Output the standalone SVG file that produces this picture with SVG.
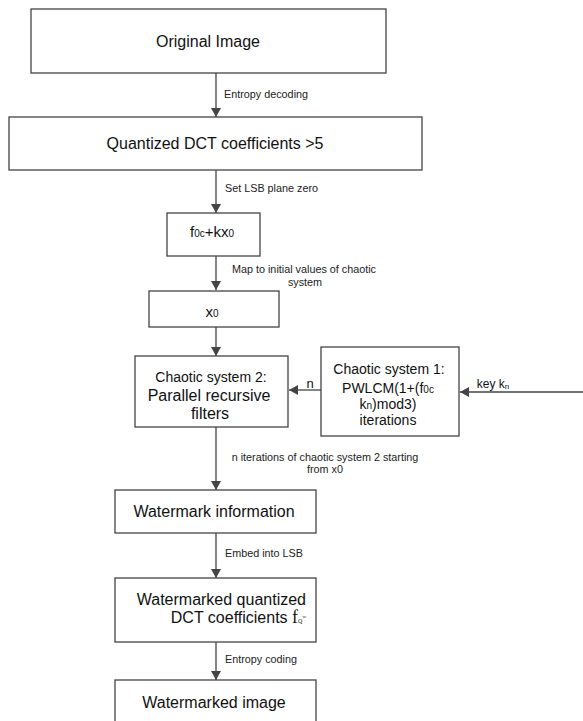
<svg xmlns="http://www.w3.org/2000/svg" width="583" height="721" viewBox="0 0 583 721">
<style>
.box{fill:#fff;stroke:#444;stroke-width:1.3}
.t{font-family:"Liberation Sans",Arial,sans-serif;fill:#111}
.big{font-size:16px}
.mid{font-size:14px}
.lab{font-family:"Liberation Sans",Arial,sans-serif;font-size:10.8px;fill:#222}
.c{stroke:#444;stroke-width:1.3;fill:none;marker-end:url(#ah)}
</style>
<defs>
<marker id="ah" markerWidth="9" markerHeight="10" refX="9" refY="5" orient="auto" markerUnits="userSpaceOnUse">
<path d="M0,0 L9,5 L0,10 Z" fill="#444"/>
</marker>
</defs>
<rect width="583" height="721" fill="#fff"/>
<g id="connectors">
<line class="c" x1="216" y1="73" x2="216" y2="117"/>
<line class="c" x1="216" y1="170" x2="216" y2="213"/>
<line class="c" x1="216" y1="256" x2="216" y2="290"/>
<line class="c" x1="216" y1="327" x2="216" y2="356"/>
<line class="c" x1="321" y1="390" x2="289" y2="390"/>
<line class="c" x1="583" y1="392" x2="460" y2="392"/>
<line class="c" x1="216" y1="427" x2="216" y2="490"/>
<line class="c" x1="216" y1="533" x2="216" y2="578"/>
<line class="c" x1="216" y1="642" x2="216" y2="680"/>
<text class="lab" x="224" y="98">Entropy decoding</text>
<text class="lab" x="225" y="192">Set LSB plane zero</text>
<text class="lab" x="304" y="273" text-anchor="middle">Map to initial values of chaotic</text>
<text class="lab" x="305" y="286" text-anchor="middle">system</text>
<text class="t" x="310" y="388" text-anchor="middle" style="font-size:13px">n</text>
<text class="t" x="493" y="388" text-anchor="middle" style="font-size:12px">key k<tspan font-size="8" dy="1">n</tspan></text>
<text class="lab" x="325" y="461" text-anchor="middle">n iterations of chaotic system 2 starting</text>
<text class="lab" x="325" y="473" text-anchor="middle">from x0</text>
<text class="lab" x="225" y="557">Embed into LSB</text>
<text class="lab" x="225" y="663">Entropy coding</text>
</g>
<g id="original">
<rect class="box" x="31" y="9" width="355" height="64"/>
<text class="t big" x="208" y="47" text-anchor="middle">Original Image</text>
</g>
<g id="quantized">
<rect class="box" x="9" y="117" width="413" height="53"/>
<text class="t big" x="215" y="149" text-anchor="middle">Quantized DCT coefficients &gt;5</text>
</g>
<g id="f0c">
<rect class="box" x="167" y="213" width="93" height="43"/>
<text class="t" x="212" y="237" text-anchor="middle" style="font-size:15px">f<tspan font-size="10">0c</tspan>+kx<tspan font-size="10">0</tspan></text>
</g>
<g id="x0">
<rect class="box" x="149" y="291" width="130" height="36"/>
<text class="t" x="212" y="317" text-anchor="middle" style="font-size:15px">x<tspan font-size="10">0</tspan></text>
</g>
<g id="chaotic2">
<rect class="box" x="135" y="356" width="153" height="71"/>
<text class="t mid" x="211" y="382" text-anchor="middle">Chaotic system 2:</text>
<text class="t big" x="209" y="401" text-anchor="middle">Parallel recursive</text>
<text class="t big" x="210" y="419" text-anchor="middle">filters</text>
</g>
<g id="chaotic1">
<rect class="box" x="321" y="347" width="138" height="89"/>
<text class="t mid" x="389" y="374" text-anchor="middle">Chaotic system 1:</text>
<text class="t mid" x="388" y="393" text-anchor="middle">PWLCM(1+(f<tspan font-size="10">0c</tspan></text>
<text class="t mid" x="388" y="409" text-anchor="middle">k<tspan font-size="10">n</tspan>)mod3)</text>
<text class="t mid" x="388" y="425" text-anchor="middle">iterations</text>
</g>
<g id="watermark">
<rect class="box" x="115" y="490" width="201" height="43"/>
<text class="t big" x="214" y="517" text-anchor="middle">Watermark information</text>
</g>
<g id="watermarked-dct">
<rect class="box" x="115" y="578" width="201" height="64"/>
<text class="t big" x="306" y="605" text-anchor="end">Watermarked quantized</text>
<text class="t big" x="306" y="623" text-anchor="end">DCT coefficients <tspan font-family="Liberation Serif" font-size="18">f</tspan><tspan font-family="Liberation Serif" font-size="6">Q</tspan><tspan font-family="Liberation Serif" font-size="5" dy="-5">w</tspan></text>
</g>
<g id="watermarked-image">
<rect class="box" x="115" y="680" width="201" height="50"/>
<text class="t big" x="214" y="708" text-anchor="middle">Watermarked image</text>
</g>
</svg>
